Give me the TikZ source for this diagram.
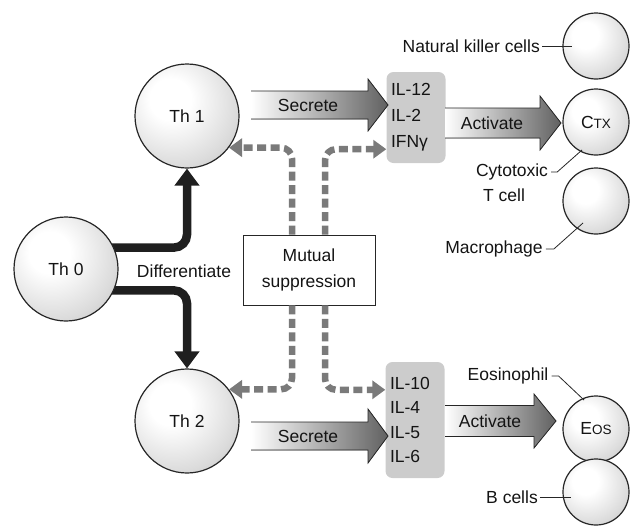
\documentclass[tikz,border=0pt]{standalone}
\usepackage{fontspec}
\setmainfont{Liberation Sans}
\usetikzlibrary{arrows.meta,calc,backgrounds}
\pgfdeclareradialshading{cellball}{\pgfpoint{-9bp}{9bp}}{color(0bp)=(white);color(10bp)=(white);color(30bp)=(black!14);color(48bp)=(black!30);color(62bp)=(black!38);color(90bp)=(black!40)}
\newcommand\fatarrow[6]{%
  \fill[left color=white, middle color=black!20, right color=black!62]
    (#1,#4-#5) -- (#2,#4-#5) -- (#2,#4-#6) -- (#3,#4) -- (#2,#4+#6) -- (#2,#4+#5) -- (#1,#4+#5) -- cycle;
  \draw[draw=black!85, line width=0.8pt, line join=miter]
    (#1,#4-#5) -- (#2,#4-#5) -- (#2,#4-#6) -- (#3,#4) -- (#2,#4+#6) -- (#2,#4+#5) -- (#1,#4+#5);}
\begin{document}
\begin{tikzpicture}[x=1pt,y=-1pt,
  every node/.style={font=\fontsize{17.5}{25}\selectfont, text=black!92},
  bigcell/.style={circle, draw=black!85, line width=1.2pt, shading=cellball, minimum size=104pt, inner sep=0pt},
  smallcell/.style={circle, draw=black!85, line width=1.2pt, shading=cellball, minimum size=66pt, inner sep=0pt},
  ilbox/.style={rounded corners=7pt, fill=black!20, minimum width=59pt, inner sep=0pt, align=left, text width=50pt},
  msbox/.style={draw=black!85, line width=0.8pt, fill=white, minimum width=132pt, minimum height=70pt, align=center, inner sep=0pt},
  diffarrow/.style={line width=8.5pt, draw=black!88, rounded corners=13pt, -{Triangle[width=24pt,length=17pt]}},
  suparrow/.style={line width=6.5pt, draw=black!52, dash pattern=on 9pt off 4.5pt, rounded corners=11pt, -{Triangle[width=18pt,length=13pt]}},
  tag/.style={draw=black!85, line width=0.8pt},
  lbl/.style={inner sep=0pt}
]
\useasboundingbox (0,0) rectangle (631,525);

% cells
\node[bigcell] (th0) at (66,269) {Th 0};
\node[bigcell] (th1) at (187,116) {Th 1};
\node[bigcell] (th2) at (187,421) {Th 2};
\node[smallcell] (nk)  at (596,46) {};
\node[smallcell] (ctx) at (596,122) {C{\fontsize{13.5}{15}\selectfont TX}};
\node[smallcell] (mac) at (596,201) {};
\node[smallcell] (eos) at (596,429) {E{\fontsize{13.5}{15}\selectfont OS}};
\node[smallcell] (bc)  at (596,492) {};

% differentiate arrows
\begin{scope}[on background layer]
\draw[diffarrow] ($(th0.24)+(-10,0)$) -| (th1.south);
\draw[diffarrow] ($(th0.-24)+(-10,0)$) -| (th2.north);
\end{scope}
\node[lbl] (diff) at (184,271) {Differentiate};

% cytokine boxes
\node[ilbox, minimum height=91pt, font=\fontsize{17.5}{26}\selectfont] (il1) at (416,117.5) {IL-12\\IL-2\\IFNγ};
\node[ilbox, minimum height=116pt, font=\fontsize{17.5}{24.5}\selectfont] (il2) at (415,420) {IL-10\\IL-4\\IL-5\\IL-6};

% secrete / activate arrows
\fatarrow{251}{368}{388}{105}{14}{26}
\node[lbl] (sec1) at (308,105) {Secrete};
\fatarrow{251}{368}{388}{436}{14}{27}
\node[lbl] (sec2) at (308,436) {Secrete};
\fatarrow{445}{540}{561}{123}{15}{27}
\node[lbl] (act1) at (492,123) {Activate};
\fatarrow{445}{534}{556}{421}{15.5}{27}
\node[lbl] (act2) at (490,421) {Activate};

% mutual suppression
\node[msbox, font=\fontsize{17.5}{26}\selectfont] (ms) at (309,270) {Mutual\\suppression};
\draw[suparrow] ($(ms.north)+(-17,0)$) |- (th1.-37);
\draw[suparrow] ($(ms.north)+(16,0)$) |- ($(il1.south west)+(0,-14)$);
\draw[suparrow] ($(ms.south)+(-17,0)$) |- (th2.37);
\draw[suparrow] ($(ms.south)+(16,0)$) |- ($(il2.north west)+(0,28)$);

% target cell labels
\node[lbl, anchor=east] (nkl) at (540,46) {Natural killer cells};
\draw[tag] ([xshift=2pt]nkl.east) -- ($(nk.west)+(10,0)$);
\node[lbl] (cyto) at (512,172) {Cytotoxic};
\node[lbl] (tcell) at (504,195) {T cell};
\draw[tag] ([xshift=3pt]cyto.east) -- ++(6,0) -- ($(ctx.center)+(-14,28)$);
\node[lbl] (macl) at (494,249) {Macrophage};
\draw[tag] ([xshift=3pt]macl.east) -- ++(8,0) -- ($(mac.center)+(-13,22)$);
\node[lbl] (eosl) at (508,376) {Eosinophil};
\draw[tag] ([xshift=3pt]eosl.east) -- ++(7,0) -- ($(eos.center)+(-12,-29)$);
\node[lbl] (bcl) at (512,497) {B cells};
\draw[tag] ([xshift=2pt]bcl.east) -- ($(bc.west)+(9,5)$);
\end{tikzpicture}
\end{document}
